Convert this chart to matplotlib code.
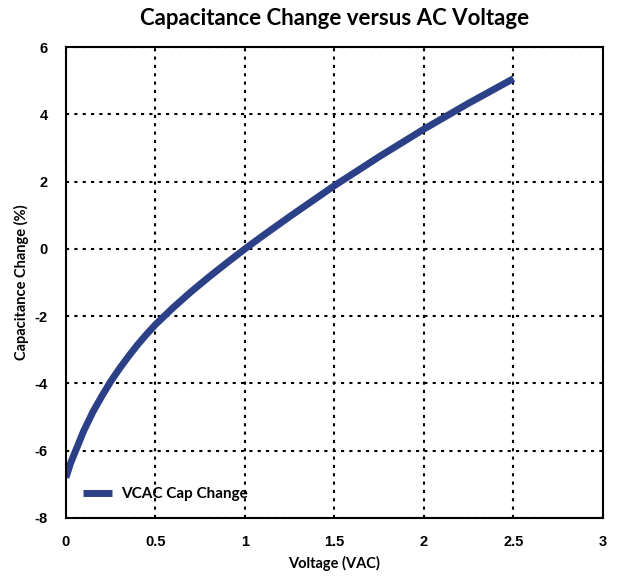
import matplotlib
matplotlib.use("Agg")
import matplotlib.pyplot as plt

# values
voltage = [0, 0.025, 0.05, 0.1, 0.15, 0.2, 0.25, 0.3, 0.35, 0.4, 0.45, 0.5,
           0.6, 0.7, 0.8, 0.9, 1.0, 1.1, 1.25, 1.5, 1.75, 2.0, 2.25, 2.5]
cap_change = [-6.8, -6.38, -6.05, -5.4, -4.85, -4.38, -3.94, -3.55, -3.19, -2.85,
              -2.54, -2.25, -1.74, -1.27, -0.83, -0.41, 0.0, 0.39, 0.96, 1.88,
              2.74, 3.56, 4.33, 5.06]

x_ticks = [0, 0.5, 1, 1.5, 2, 2.5, 3]
y_ticks = [-8, -6, -4, -2, 0, 2, 4, 6]

fig = plt.figure(figsize=(6.26, 5.76), dpi=100)
ax = fig.add_axes([0.1054, 0.1007, 0.8578, 0.8177])

ax.plot(voltage, cap_change, color="#2B4087", linewidth=5, label="VCAC Cap Change",
        solid_capstyle="butt", solid_joinstyle="round")

ax.set_xlim(0, 3)
ax.set_ylim(-8, 6)
ax.set_xticks(x_ticks)
ax.set_yticks(y_ticks)
ax.set_xticklabels([f"{t:g}" for t in x_ticks], fontfamily="Liberation Sans",
                   fontweight="bold", fontsize=10.5)
ax.set_yticklabels([f"{t:g}" for t in y_ticks], fontfamily="Liberation Sans",
                   fontweight="bold", fontsize=10.5)
ax.tick_params(axis="x", length=0, pad=12)
ax.tick_params(axis="y", length=0, pad=13)
ax.grid(True, color="black", linestyle=(0, (1.5, 2.5)), linewidth=1.5)

for s in ax.spines.values():
    s.set_linewidth(1.5)
    s.set_color("black")

ax.set_title("Capacitance Change versus AC Voltage", fontfamily="Lato",
             fontweight="bold", fontsize=16, pad=16)
ax.set_xlabel("Voltage (VAC)", fontfamily="Lato", fontweight="bold", fontsize=10.5,
              labelpad=5)
ax.set_ylabel("Capacitance Change (%)", fontfamily="Lato", fontweight="bold",
              fontsize=10.5, labelpad=4)

ax.legend(loc="lower left", frameon=False, handlelength=1.9, handletextpad=0.6,
          borderaxespad=0.7, prop={"family": "Lato", "weight": "bold", "size": 11})

fig.savefig("out.png", dpi=100)
